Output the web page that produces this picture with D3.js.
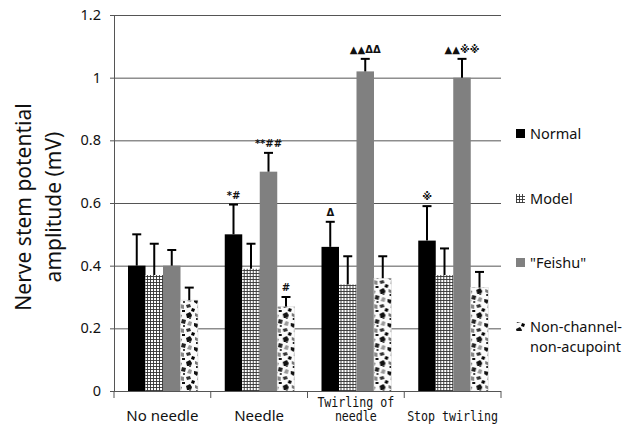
<!DOCTYPE html>
<html>
<head>
<meta charset="utf-8">
<script src="https://cdn.jsdelivr.net/npm/d3@7"></script>
<style>
  body { margin: 0; background: #fff; }
  svg { display: block; }
</style>
</head>
<body>
<svg id="chart" width="634" height="425"></svg>
<script>
// chart values
var categories = ["No needle", "Needle", "Twirling of needle", "Stop twirling"];
var categoryLines = [["No needle"], ["Needle"], ["Twirling of", "needle"], ["Stop twirling"]];
var seriesNames = ["Normal", "Model", "\"Feishu\"", "Non-channel-non-acupoint"];
var normalVals = [0.40, 0.50, 0.46, 0.48];
var modelVals = [0.37, 0.39, 0.34, 0.37];
var feishuVals = [0.40, 0.70, 1.02, 1.00];
var nonChannelVals = [0.29, 0.27, 0.36, 0.33];
var normalSd = [0.10, 0.095, 0.08, 0.11];
var modelSd = [0.10, 0.08, 0.09, 0.085];
var feishuSd = [0.05, 0.06, 0.04, 0.06];
var nonChannelSd = [0.04, 0.03, 0.07, 0.05];
var yTicks = [0, 0.2, 0.4, 0.6, 0.8, 1, 1.2];
var marks = [
  {cat: 1, s: 0, text: "*#"},
  {cat: 1, s: 2, text: "**##"},
  {cat: 1, s: 3, text: "#"},
  {cat: 2, s: 0, text: "\u0394"},
  {cat: 2, s: 2, text: "\u25B2\u25B2\u0394\u0394"},
  {cat: 3, s: 0, text: "\u203B"},
  {cat: 3, s: 2, text: "\u25B2\u25B2\u203B\u203B"}
];

var allVals = [normalVals, modelVals, feishuVals, nonChannelVals];
var allSd = [normalSd, modelSd, feishuSd, nonChannelSd];
var font = "'Noto Sans', 'Open Sans', sans-serif";

var svg = d3.select("#chart");
var defs = svg.append("defs");

// grid hatch for Model
var grid = defs.append("pattern").attr("id", "gridPat")
  .attr("patternUnits", "userSpaceOnUse").attr("width", 3).attr("height", 3);
grid.append("rect").attr("width", 3).attr("height", 3).attr("fill", "#fff");
grid.append("path").attr("d", "M0,0.5H3M0.5,0V3").attr("stroke", "#333").attr("stroke-width", 0.9);

// speckle texture for non-channel
var spk = defs.append("pattern").attr("id", "spkPat")
  .attr("patternUnits", "userSpaceOnUse").attr("width", 18).attr("height", 24);
spk.append("rect").attr("width", 18).attr("height", 24).attr("fill", "#fbfbfb");
var blobs = [
  ["M0,2l4,-2l2,3l-1,3l-4,0z", "#111"], ["M9,1l5,2l-1,3l-4,-2z", "#777"],
  ["M14,7l4,1l-1,4l-4,-1z", "#222"], ["M3,9l3,1l-1,4l-4,-1z", "#999"],
  ["M8,11l5,1l-2,4l-3,-2z", "#111"], ["M0,17l4,-1l1,3l-4,1z", "#333"],
  ["M12,16l4,1l0,4l-5,-1z", "#888"], ["M6,20l3,1l-1,3l-3,-1z", "#000"],
  ["M15,13l2,0l0,2l-2,0z", "#444"], ["M10,6l2,0l0,2l-2,0z", "#222"],
  ["M3,5l2,0l0,2l-2,0z", "#555"], ["M14,22l3,0l0,2l-3,0z", "#111"]
];
blobs.forEach(function(b) { spk.append("path").attr("d", b[0]).attr("fill", b[1]); });

var fills = ["#000", "url(#gridPat)", "#808080", "url(#spkPat)"];

var y = d3.scaleLinear().domain([0, 1.2]).range([391, 15]);
var x = d3.scaleBand().domain(categories).range([114, 501]);
var xs = d3.scaleBand().domain(d3.range(4)).range([14, 84]);

// gridlines and y axis ticks
svg.append("g")
  .attr("transform", "translate(114,0)")
  .call(d3.axisLeft(y).tickValues(yTicks).tickSize(-387).tickSizeOuter(0)
    .tickFormat(function(d) { return d; }))
  .call(function(g) {
    g.select(".domain").remove();
    g.selectAll(".tick line").attr("x1", -4).attr("stroke", "#555");
    g.selectAll(".tick text").attr("x", -13).attr("font-family", font)
      .attr("font-size", 14.5).attr("fill", "#111");
  });

// y axis line
svg.append("line").attr("x1", 114.5).attr("x2", 114.5).attr("y1", y(1.2)).attr("y2", y(0))
  .attr("stroke", "#555");

// bars
var groups = svg.selectAll(".grp").data(categories).enter().append("g")
  .attr("transform", function(d) { return "translate(" + x(d) + ",0)"; });

groups.each(function(c, ci) {
  var g = d3.select(this);
  allVals.forEach(function(vals, si) {
    var v = vals[ci], top = v + allSd[si][ci];
    var bx = xs(si), bw = xs.bandwidth();
    g.append("rect").attr("x", bx).attr("width", bw)
      .attr("y", y(v)).attr("height", y(0) - y(v))
      .attr("fill", fills[si])
      .attr("stroke", si === 3 ? "#ddd" : "none").attr("stroke-width", 0.6);
    var cx = bx + bw / 2;
    g.append("line").attr("x1", cx).attr("x2", cx).attr("y1", y(v)).attr("y2", y(top))
      .attr("stroke", "#000").attr("stroke-width", 2);
    g.append("line").attr("x1", cx - 4.5).attr("x2", cx + 4.5).attr("y1", y(top)).attr("y2", y(top))
      .attr("stroke", "#000").attr("stroke-width", 2);
  });
});

// significance marks
svg.selectAll(".mark").data(marks).enter().append("text")
  .attr("x", function(d) { return x(categories[d.cat]) + xs(d.s) + xs.bandwidth() / 2; })
  .attr("y", function(d) { return y(allVals[d.s][d.cat] + allSd[d.s][d.cat]) - 6; })
  .attr("text-anchor", "middle")
  .attr("font-family", "'DejaVu Sans', sans-serif")
  .attr("font-size", 10).attr("font-weight", "bold")
  .attr("fill", "#111")
  .text(function(d) { return d.text; });

// x axis
svg.append("line").attr("x1", 114).attr("x2", 501).attr("y1", 391.5).attr("y2", 391.5)
  .attr("stroke", "#555");
svg.selectAll(".xt").data(d3.range(5)).enter().append("line")
  .attr("x1", function(i) { return 114 + i * x.bandwidth(); })
  .attr("x2", function(i) { return 114 + i * x.bandwidth(); })
  .attr("y1", 391).attr("y2", 398).attr("stroke", "#555");

// last two labels use a narrow fixed-width face like the original
categoryLines.forEach(function(lines, i) {
  var cx = x(categories[i]) + x.bandwidth() / 2;
  var mono = i >= 2;
  var n = lines.length;
  lines.forEach(function(t, j) {
    var ty = 421 - (n - 1 - j) * 14.5;
    var txt = svg.append("text").attr("x", cx).attr("y", ty)
      .attr("text-anchor", "middle").attr("fill", "#111")
      .text(t);
    if (mono) {
      txt.attr("font-family", "'DejaVu Sans Mono', monospace").attr("font-size", 14)
        .attr("textLength", t.length * 7).attr("lengthAdjust", "spacingAndGlyphs");
    } else {
      txt.attr("font-family", font).attr("font-size", 15);
    }
  });
});

// y axis title
svg.append("text")
  .attr("transform", "translate(31,207) rotate(-90)")
  .attr("text-anchor", "middle")
  .attr("font-family", font).attr("font-size", 21).attr("fill", "#111")
  .text("Nerve stem potential");
svg.append("text")
  .attr("transform", "translate(61,207) rotate(-90)")
  .attr("text-anchor", "middle")
  .attr("font-family", font).attr("font-size", 21).attr("fill", "#111")
  .text("amplitude (mV)");

// legend
var legY = [134, 199, 263, 327];
var leg = svg.selectAll(".leg").data(seriesNames).enter().append("g")
  .attr("transform", function(d, i) { return "translate(516," + legY[i] + ")"; });
leg.append("rect").attr("x", 0).attr("y", -5).attr("width", 9).attr("height", 9)
  .attr("fill", function(d, i) { return fills[i]; });
leg.each(function(d, i) {
  var t = d3.select(this).append("text").attr("x", 14).attr("y", 5)
    .attr("font-family", font).attr("font-size", 14.5).attr("fill", "#111");
  if (i === 3) {
    t.append("tspan").attr("x", 14).text("Non-channel-");
    t.append("tspan").attr("x", 14).attr("dy", 20).text("non-acupoint");
  } else {
    t.text(d);
  }
});
</script>
</body>
</html>
